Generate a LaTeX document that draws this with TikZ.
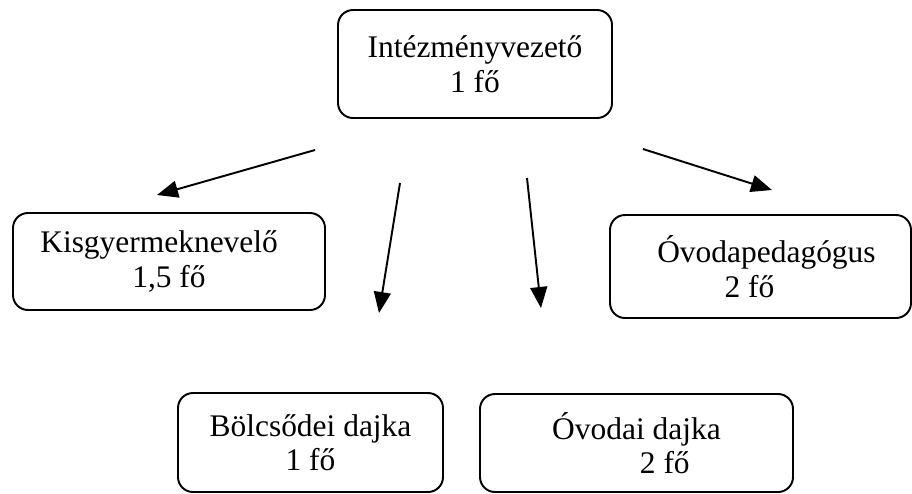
\documentclass[tikz,border=0pt]{standalone}
\usepackage{fontspec}
\setmainfont{Liberation Serif}
\usetikzlibrary{arrows.meta}
\begin{document}
\begin{tikzpicture}[box/.style={draw, rounded corners=0.3cm, line width=1.1pt, align=center, inner sep=0pt},
  font=\fontsize{17.9}{19.6}\selectfont]
\useasboundingbox (0,0) rectangle (18.24,-9.86);
\node[box, minimum width=5.48cm, minimum height=2.16cm] (N1) at (9.5,-1.28) {Intézményvezető\\1 fő};
\node[box, minimum width=6.24cm, minimum height=1.94cm] (N2) at (3.38,-5.23) {Kisgyermeknevelő\kern0.63em\\1,5 fő};
\node[box, minimum width=6.02cm, minimum height=2.06cm] (N3) at (15.21,-5.33) {\kern0.38em Óvodapedagógus\\2 fő\kern0.7em};
\node[box, minimum width=5.3cm, minimum height=1.98cm] (N4) at (6.21,-8.85) {Bölcsődei dajka\\1 fő};
\node[box, minimum width=6.26cm, minimum height=1.96cm] (N5) at (12.73,-8.86) {Óvodai dajka\\\kern1.8em 2 fő};
\coordinate (A1) at (6.30,-3.00);
\coordinate (B1) at (3.14,-3.90);
\coordinate (A2) at (8.00,-3.66);
\coordinate (B2) at (7.58,-6.26);
\coordinate (A3) at (10.54,-3.56);
\coordinate (B3) at (10.82,-6.16);
\coordinate (A4) at (12.86,-2.98);
\coordinate (B4) at (15.44,-3.80);
\draw[-{Triangle[length=0.42cm,width=0.34cm]}, line width=1.1pt] (A1) -- (B1);
\draw[-{Triangle[length=0.42cm,width=0.34cm]}, line width=1.1pt] (A2) -- (B2);
\draw[-{Triangle[length=0.42cm,width=0.34cm]}, line width=1.1pt] (A3) -- (B3);
\draw[-{Triangle[length=0.42cm,width=0.34cm]}, line width=1.1pt] (A4) -- (B4);
\end{tikzpicture}
\end{document}
